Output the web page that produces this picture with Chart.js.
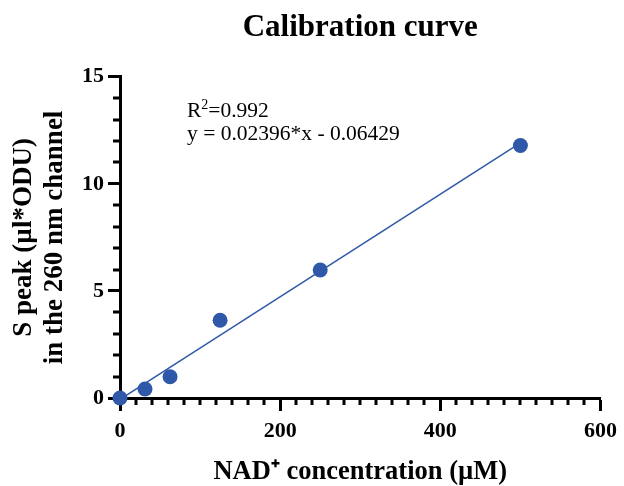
<!DOCTYPE html>
<html>
<head>
<meta charset="utf-8">
<script src="https://cdn.jsdelivr.net/npm/chart.js@4.4.1/dist/chart.umd.min.js"></script>
<style>
  html, body { margin: 0; padding: 0; background: #fff; }
</style>
</head>
<body>
<canvas id="calChart" width="624" height="486"></canvas>
<script>
// Datos de la curva de calibración
const concentrations = [0, 31.25, 62.5, 125, 250, 500]; // NAD+ (µM)
const peakAreas = [0, 0.42, 0.99, 3.63, 5.98, 11.79];   // S peak (µl*ODU)
const slope = 0.02396;
const intercept = -0.06429;
const rSquared = "0.992";
const fitRange = [0, 500];

// Ejes
const xMin = 0, xMax = 600, xMajor = 200, xMinor = 20;
const yMin = 0, yMax = 15, yMajor = 5, yMinor = 1;

const serif = "'Liberation Serif', 'Times New Roman', serif";
const blue = "#2f58a8";

// Marcas menores de los ejes
const minorTicks = {
  id: "minorTicks",
  beforeDatasetsDraw(chart) {
    const ctx = chart.ctx;
    const xs = chart.scales.x;
    const ys = chart.scales.y;
    const area = chart.chartArea;
    ctx.save();
    ctx.strokeStyle = "#000";
    ctx.lineWidth = 3;
    for (let v = xMin; v <= xMax; v += xMinor) {
      if (v % xMajor === 0) continue;
      const px = Math.round(xs.getPixelForValue(v));
      ctx.beginPath();
      ctx.moveTo(px, area.bottom);
      ctx.lineTo(px, area.bottom + 7);
      ctx.stroke();
    }
    for (let v = yMin; v <= yMax; v += yMinor) {
      if (v % yMajor === 0) continue;
      const py = Math.round(ys.getPixelForValue(v));
      ctx.beginPath();
      ctx.moveTo(area.left, py);
      ctx.lineTo(area.left - 7, py);
      ctx.stroke();
    }
    ctx.restore();
  },
};

// Texto con R² y la ecuación
const fitText = {
  id: "fitText",
  afterDraw(chart) {
    const ctx = chart.ctx;
    const area = chart.chartArea;
    const x = area.left + 67;
    const y = area.top + 40;
    ctx.save();
    ctx.fillStyle = "#000";
    ctx.textBaseline = "alphabetic";
    ctx.textAlign = "left";
    ctx.font = "21.5px " + serif;
    ctx.fillText("R", x, y);
    let w = ctx.measureText("R").width;
    ctx.font = "14px " + serif;
    ctx.fillText("2", x + w, y - 8);
    w += ctx.measureText("2").width;
    ctx.font = "21.5px " + serif;
    ctx.fillText("=" + rSquared, x + w, y);
    ctx.fillText("y = " + slope + "*x - " + Math.abs(intercept), x, y + 23);
    ctx.restore();
  },
};

const ctx = document.getElementById("calChart").getContext("2d");

new Chart(ctx, {
  type: "scatter",
  data: {
    datasets: [
      {
        data: concentrations.map((c, i) => ({ x: c, y: peakAreas[i] })),
        backgroundColor: blue,
        borderWidth: 0,
        pointRadius: 7.5,
        pointHoverRadius: 7.5,
        clip: false,
      },
      {
        type: "line",
        data: fitRange.map((c) => ({ x: c, y: slope * c + intercept })),
        borderColor: blue,
        borderWidth: 1.5,
        pointRadius: 0,
        fill: false,
        clip: false,
      },
    ],
  },
  options: {
    responsive: false,
    animation: false,
    layout: { padding: { left: 0, right: 22, top: 0, bottom: 0 } },
    plugins: {
      legend: { display: false },
      tooltip: { enabled: false },
      title: {
        display: true,
        text: "Calibration curve",
        fullSize: false,
        color: "#000",
        font: { family: serif, size: 31, weight: "bold", lineHeight: 1.2 },
        padding: { top: 9, bottom: 30.6 },
      },
    },
    scales: {
      x: {
        type: "linear",
        min: xMin,
        max: xMax,
        afterFit(scale) { scale.height = 88; },
        border: { display: true, color: "#000", width: 3 },
        grid: {
          display: true,
          drawOnChartArea: false,
          drawTicks: true,
          tickLength: 13,
          tickWidth: 3,
          tickColor: "#000",
        },
        ticks: {
          stepSize: xMajor,
          color: "#000",
          padding: 7,
          maxRotation: 0,
          font: { family: serif, size: 22, weight: "bold" },
        },
        title: {
          display: true,
          text: "NAD\u207A concentration (\u00B5M)",
          color: "#000",
          font: { family: serif, size: 26.5, weight: "bold", lineHeight: 1 },
          padding: { top: 0, bottom: 1 },
        },
      },
      y: {
        type: "linear",
        min: yMin,
        max: yMax,
        afterFit(scale) { scale.width = 120; },
        border: { display: true, color: "#000", width: 3 },
        grid: {
          display: true,
          drawOnChartArea: false,
          drawTicks: true,
          tickLength: 12,
          tickWidth: 3,
          tickColor: "#000",
        },
        ticks: {
          stepSize: yMajor,
          color: "#000",
          padding: 4,
          font: { family: serif, size: 22, weight: "bold" },
        },
        title: {
          display: true,
          text: ["S peak (\u00B5l*ODU)", "in the 260 nm channel"],
          color: "#000",
          font: { family: serif, size: 27, weight: "bold", lineHeight: 1.15 },
          padding: { top: 8.5, bottom: 0 },
        },
      },
    },
  },
  plugins: [minorTicks, fitText],
});
</script>
</body>
</html>
